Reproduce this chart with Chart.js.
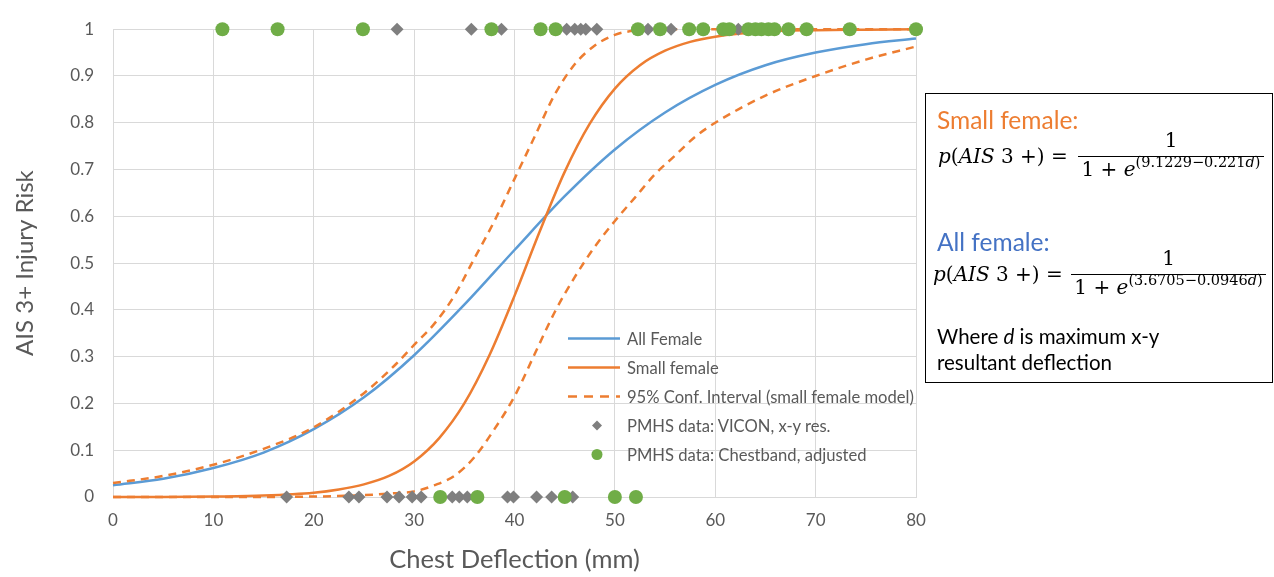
<!DOCTYPE html>
<html><head><meta charset="utf-8">
<script src="https://cdn.jsdelivr.net/npm/chart.js@4.4.1/dist/chart.umd.min.js"></script>
<style>
html,body{margin:0;padding:0;background:#fff;}
#wrap{position:relative;width:1274px;height:577px;overflow:hidden;background:#fff;}
#c{position:absolute;left:0;top:0;}
#legend{position:absolute;left:566px;top:324px;font-family:Lato,'Open Sans',sans-serif;font-size:16.6px;color:#595959;}
.li{height:29px;display:flex;align-items:center;white-space:nowrap;}
.li svg{margin-right:5px;flex:none;}
#box{position:absolute;left:925px;top:93px;width:348px;height:290px;border:1.5px solid #000;box-sizing:border-box;}
#box .t{position:absolute;font-family:Lato,'Open Sans',sans-serif;white-space:nowrap;}
#box .m{position:absolute;font-family:'DejaVu Serif',serif;font-size:20px;white-space:nowrap;line-height:24px;color:#000;}
#box .m sup{font-size:14.5px;vertical-align:0;position:relative;top:-9px;}
#box .bar{position:absolute;height:1.3px;background:#000;}
</style></head>
<body>
<div id="wrap">
<canvas id="c" width="1274" height="577"></canvas>
<div id="legend"></div>
<div id="box">
  <div class="t" style="left:11px;top:11px;font-size:24.5px;color:#ed7d31;">Small female:</div>
  <div class="m" style="left:12px;top:50px;"><i>p</i>(<i>AIS</i> 3 +) =</div>
  <div class="m" style="left:152px;top:34px;width:186px;text-align:center;">1</div>
  <div class="bar" style="left:152px;top:62px;width:186px;"></div>
  <div class="m" style="left:152px;top:63px;width:186px;text-align:center;">1 + <i>e</i><sup>(9.1229−0.221<i>d</i>)</sup></div>

  <div class="t" style="left:11px;top:133px;font-size:24.5px;color:#4472c4;">All female:</div>
  <div class="m" style="left:7px;top:168px;"><i>p</i>(<i>AIS</i> 3 +) =</div>
  <div class="m" style="left:145px;top:152px;width:195px;text-align:center;">1</div>
  <div class="bar" style="left:145px;top:180px;width:195px;"></div>
  <div class="m" style="left:145px;top:181px;width:195px;text-align:center;">1 + <i>e</i><sup>(3.6705−0.0946<i>d</i>)</sup></div>

  <div class="t" style="left:11px;top:230px;font-size:20.5px;color:#000;">Where <i>d</i> is maximum x-y</div>
  <div class="t" style="left:11px;top:256px;font-size:20.5px;color:#000;">resultant deflection</div>
</div>
</div>
<script>
// ---- data ----
const xTickValues = [0, 10, 20, 30, 40, 50, 60, 70, 80];
const yTickLabels = ['0', '0.1', '0.2', '0.3', '0.4', '0.5', '0.6', '0.7', '0.8', '0.9', '1'];

const allFemaleD    = [0, 5, 10, 15, 20, 25, 30, 35, 40, 45, 50, 55, 60, 65, 70, 75, 80];
const allFemaleRisk = [0.025, 0.039, 0.062, 0.095, 0.145, 0.213, 0.303, 0.411, 0.528, 0.643, 0.743, 0.822, 0.881, 0.923, 0.950, 0.968, 0.980];

const smallFemaleD    = [0, 5, 10, 15, 20, 22.5, 25, 27.5, 30, 32.5, 35, 37.5, 40, 42.5, 45, 47.5, 50, 52.5, 55, 57.5, 60, 65, 70, 75, 80];
const smallFemaleRisk = [0.000, 0.000, 0.001, 0.003, 0.009, 0.016, 0.027, 0.045, 0.076, 0.126, 0.200, 0.303, 0.430, 0.567, 0.695, 0.798, 0.873, 0.923, 0.954, 0.973, 0.984, 0.995, 0.998, 0.999, 1.000];

const upperCID    = [0, 5, 10, 15, 20, 25, 28, 30, 32, 34, 36, 38, 40, 42, 44, 46, 48, 50, 52, 55, 60, 70, 80];
const upperCIRisk = [0.030, 0.045, 0.069, 0.103, 0.149, 0.222, 0.280, 0.325, 0.370, 0.430, 0.510, 0.590, 0.680, 0.770, 0.860, 0.925, 0.965, 0.988, 0.997, 1.000, 1.000, 1.000, 1.000];

const lowerCID    = [0, 10, 20, 25, 28, 30, 32, 34, 36, 38, 40, 42, 44, 46, 48, 50, 52, 54, 56, 58, 60, 65, 70, 75, 80];
const lowerCIRisk = [0.000, 0.000, 0.001, 0.004, 0.008, 0.012, 0.025, 0.045, 0.085, 0.145, 0.215, 0.305, 0.395, 0.470, 0.535, 0.590, 0.640, 0.690, 0.730, 0.770, 0.800, 0.858, 0.900, 0.935, 0.963];

const viconD      = [28.3, 35.7, 38.7, 45.2, 46.0, 46.6, 47.1, 48.2, 53.3, 55.6, 62.3,
                     17.3, 23.5, 24.5, 27.3, 28.5, 29.8, 30.7, 33.8, 34.5, 35.3, 39.3, 39.9, 42.2, 43.7, 45.8];
const viconInjury = [1, 1, 1, 1, 1, 1, 1, 1, 1, 1, 1,
                     0, 0, 0, 0, 0, 0, 0, 0, 0, 0, 0, 0, 0, 0, 0];

const chestD      = [10.9, 16.4, 24.9, 37.7, 42.6, 44.1, 52.3, 54.5, 57.4, 58.8, 60.8, 61.4, 63.3, 64.0, 64.6, 65.3, 65.9, 67.3, 69.1, 73.4, 80.0,
                     32.6, 36.3, 45.0, 50.0, 52.1];
const chestInjury = [1, 1, 1, 1, 1, 1, 1, 1, 1, 1, 1, 1, 1, 1, 1, 1, 1, 1, 1, 1, 1,
                     0, 0, 0, 0, 0];

const seriesLabels = ['All Female', 'Small female', '95% Conf. Interval (small female model)', 'PMHS data: VICON, x-y res.', 'PMHS data: Chestband, adjusted'];

// ---- chart ----
const BLUE = '#5b9bd5', ORANGE = '#ed7d31', GRAY = '#7f7f7f', GREEN = '#70ad47', TXT = '#595959', GRID = '#d9d9d9';
const pts = (xs, ys) => xs.map((x, i) => ({x: x, y: ys[i]}));
const curve = (label, xs, ys, color, dash, order) => ({
  label: label, data: pts(xs, ys), showLine: true, borderColor: color, backgroundColor: color,
  borderWidth: 2.5, borderDash: dash, pointRadius: 0, cubicInterpolationMode: 'monotone', order: order, clip: false
});

new Chart(document.getElementById('c'), {
  type: 'scatter',
  data: {
    datasets: [
      {label: seriesLabels[4], data: pts(chestD, chestInjury), pointStyle: 'circle', pointRadius: 7,
       backgroundColor: GREEN, borderColor: GREEN, borderWidth: 0, order: 0, clip: false},
      {label: seriesLabels[3], data: pts(viconD, viconInjury), pointStyle: 'rectRot', pointRadius: 6.5,
       backgroundColor: GRAY, borderColor: GRAY, borderWidth: 0, order: 1, clip: false},
      curve(seriesLabels[2], upperCID, upperCIRisk, ORANGE, [8, 6], 2),
      curve(seriesLabels[2], lowerCID, lowerCIRisk, ORANGE, [8, 6], 2),
      curve(seriesLabels[1], smallFemaleD, smallFemaleRisk, ORANGE, [], 3),
      curve(seriesLabels[0], allFemaleD, allFemaleRisk, BLUE, [], 4)
    ]
  },
  options: {
    responsive: false, animation: false, devicePixelRatio: 1,
    layout: {padding: {left: 0, top: 15, right: 358, bottom: 0}},
    plugins: {legend: {display: false}, tooltip: {enabled: false}},
    scales: {
      x: {
        type: 'linear', min: 0, max: 80,
        afterBuildTicks: s => { s.ticks = xTickValues.map(v => ({value: v})); },
        afterFit: s => { s.height = 80; },
        grid: {color: GRID, lineWidth: 1, drawTicks: false},
        border: {color: GRID, width: 1},
        ticks: {color: TXT, font: {family: 'Lato', size: 17}, padding: 13, maxRotation: 0},
        title: {display: true, text: 'Chest Deflection (mm)', color: TXT, font: {family: 'Lato', size: 25.5}, padding: {top: 0, bottom: 2}}
      },
      y: {
        type: 'linear', min: 0, max: 1,
        afterBuildTicks: s => { s.ticks = yTickLabels.map((t, i) => ({value: i / 10})); },
        afterFit: s => { s.width = 113; },
        grid: {color: GRID, lineWidth: 1, drawTicks: false},
        border: {color: GRID, width: 1},
        ticks: {color: TXT, font: {family: 'Lato', size: 17}, padding: 19,
                callback: (v, i) => yTickLabels[i]},
        title: {display: true, text: 'AIS 3+ Injury Risk', color: TXT, font: {family: 'Lato', size: 24}, padding: {top: 11, bottom: 0}}
      }
    }
  }
});

// ---- legend (HTML, inside the plot area) ----
const legendItems = [
  {label: seriesLabels[0], kind: 'line', color: BLUE},
  {label: seriesLabels[1], kind: 'line', color: ORANGE},
  {label: seriesLabels[2], kind: 'dash', color: ORANGE},
  {label: seriesLabels[3], kind: 'diamond', color: GRAY},
  {label: seriesLabels[4], kind: 'circle', color: GREEN}
];
const lg = document.getElementById('legend');
legendItems.forEach(it => {
  let mark = '';
  if (it.kind === 'line') mark = `<line x1="2" y1="14.5" x2="54" y2="14.5" stroke="${it.color}" stroke-width="2.5"/>`;
  if (it.kind === 'dash') mark = `<line x1="2" y1="14.5" x2="54" y2="14.5" stroke="${it.color}" stroke-width="2.5" stroke-dasharray="9,7"/>`;
  if (it.kind === 'diamond') mark = `<polygon points="31,9.5 36,14.5 31,19.5 26,14.5" fill="${it.color}"/>`;
  if (it.kind === 'circle') mark = `<circle cx="31" cy="14.5" r="5.5" fill="${it.color}"/>`;
  const d = document.createElement('div');
  d.className = 'li';
  d.innerHTML = `<svg width="56" height="29">${mark}</svg><span>${it.label}</span>`;
  lg.appendChild(d);
});
</script>
</body></html>
